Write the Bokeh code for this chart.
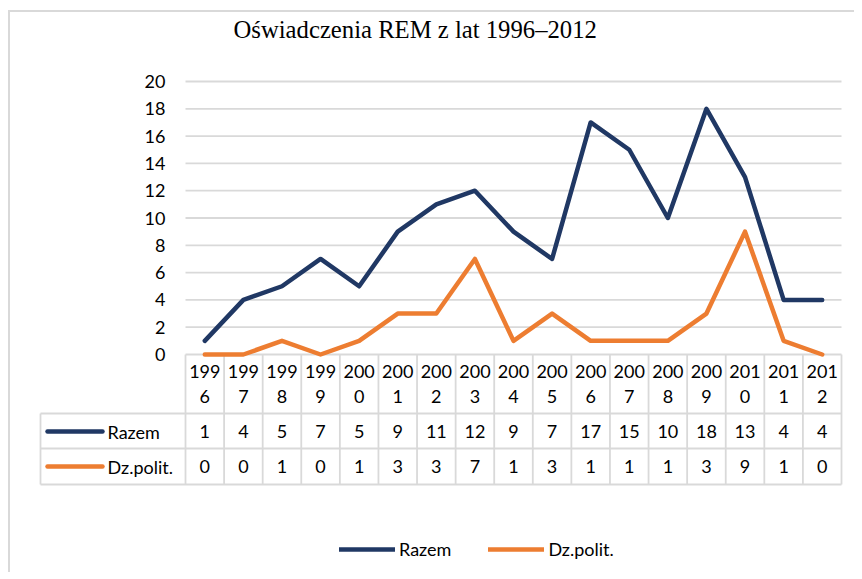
import numpy as np
from bokeh.plotting import figure
from bokeh.models import Range1d, FixedTicker, Legend, LegendItem, LinearAxis
from bokeh.embed import file_html
from bokeh.resources import INLINE

# ---- data ----
years = ["1996", "1997", "1998", "1999", "2000", "2001", "2002", "2003", "2004",
         "2005", "2006", "2007", "2008", "2009", "2010", "2011", "2012"]
razem = [1, 4, 5, 7, 5, 9, 11, 12, 9, 7, 17, 15, 10, 18, 13, 4, 4]
dz_polit = [0, 0, 1, 0, 1, 3, 3, 7, 1, 3, 1, 1, 1, 3, 9, 1, 0]
series_names = ["Razem", "Dz.polit."]
series_values = [razem, dz_polit]
series_colors = ["#203864", "#ED7D31"]
y_ticks = [0, 2, 4, 6, 8, 10, 12, 14, 16, 18, 20]
title_text = "Oświadczenia REM z lat 1996–2012"

# ---- layout constants (page pixels) ----
OX, OY = 10, 12                    # where the canvas starts (after css margin + border)
FIG_W, FIG_H = 846, 562
PLOT_L, PLOT_R = 185, 841          # page x of first / last column edge
COLW = (PLOT_R - PLOT_L) / len(years)
Y0_PX, Y20_PX = 354, 81
PXU = (Y0_PX - Y20_PX) / 20.0
FRAME_L, FRAME_R, FRAME_T, FRAME_B = 38, 843, 42, OY + FIG_H
GRID = "#d9d9d9"
FONT = "Lato"
FS = "18px"


def col(px):
    return -0.5 + (px - PLOT_L) / COLW


def rowy(px):
    return (Y0_PX - px) / PXU


idx = np.arange(len(years))
edges = np.arange(len(years) + 1) - 0.5

p = figure(width=FIG_W, height=FIG_H,
           x_range=Range1d(col(FRAME_L), col(FRAME_R)),
           y_range=Range1d(rowy(FRAME_B), rowy(FRAME_T)),
           x_axis_type=None, y_axis_type=None,
           output_backend="svg", toolbar_location=None,
           min_border_left=FRAME_L - OX, min_border_right=FIG_W - (FRAME_R - OX),
           min_border_top=FRAME_T - OY, min_border_bottom=0)
p.styles = {"border-top": "2px solid #d9d9d9", "border-left": "2px solid #d9d9d9",
            "margin": "10px 0px 0px 8px"}
p.outline_line_color = None
p.background_fill_color = "white"
p.border_fill_color = "white"

p.title.text = title_text
p.title.text_font = "Liberation Serif"
p.title.text_font_size = "24.7px"
p.title.text_font_style = "normal"
p.title.text_color = "#000000"
p.title.align = "left"
p.title.offset = 233 - FRAME_L
p.title.standoff = 0

yaxis = LinearAxis(ticker=FixedTicker(ticks=y_ticks), fixed_location=col(165))
yaxis.axis_line_color = None
yaxis.major_tick_line_color = None
yaxis.minor_tick_line_color = None
yaxis.major_tick_out = 0
yaxis.major_tick_in = 0
yaxis.major_label_standoff = 0
yaxis.major_label_text_font = FONT
yaxis.major_label_text_font_size = FS
yaxis.major_label_text_color = "#000000"
p.add_layout(yaxis, "left")

# horizontal gridlines over the plotting columns only
p.segment(x0=edges[0], y0=y_ticks, x1=edges[-1], y1=y_ticks,
          line_color=GRID, line_width=1.8)

# ---- data table ----
ROW_EDGES = [rowy(413), rowy(448), rowy(484)]
HEAD_LINES = [rowy(371), rowy(396)]
ROW_CENTERS = [rowy(431), rowy(466)]
LABEL_L = col(40)

p.segment(x0=LABEL_L, y0=ROW_EDGES, x1=edges[-1], y1=ROW_EDGES,
          line_color=GRID, line_width=1.8)
p.segment(x0=edges, y0=0, x1=edges, y1=ROW_EDGES[-1], line_color=GRID, line_width=1.8)
p.segment(x0=[LABEL_L], y0=[ROW_EDGES[0]], x1=[LABEL_L], y1=[ROW_EDGES[-1]],
          line_color=GRID, line_width=1.8)

txt = dict(text_align="center", text_baseline="middle", text_font_size=FS,
           text_color="#000000", text_font={"value": FONT})
p.text(x=idx, y=HEAD_LINES[0], text=[y[:3] for y in years], **txt)
p.text(x=idx, y=HEAD_LINES[1], text=[y[3:] for y in years], **txt)
for vals, yc in zip(series_values, ROW_CENTERS):
    p.text(x=idx, y=yc, text=[str(v) for v in vals], **txt)

p.text(x=col(107), y=ROW_CENTERS, text=series_names, text_align="left",
       text_baseline="middle", text_font={"value": FONT}, text_font_size=FS,
       text_color="#000000")
keys = p.segment(x0=col(47), y0=ROW_CENTERS, x1=col(102), y1=ROW_CENTERS,
                 line_color=series_colors, line_width=4.5, line_cap="round")

# ---- series lines ----
for vals, color in zip(series_values, series_colors):
    p.line(idx, vals, line_color=color, line_width=4.5,
           line_join="round", line_cap="round")

legend = Legend(items=[LegendItem(label=n, renderers=[keys], index=i)
                       for i, n in enumerate(series_names)],
                orientation="horizontal", location=(339 - FRAME_L, FRAME_B - 550 - 10),
                glyph_width=56, glyph_height=20, label_standoff=4, spacing=37,
                padding=0, margin=0, border_line_color=None,
                background_fill_alpha=0, label_text_font=FONT,
                label_text_font_size=FS, label_text_color="#000000")
p.add_layout(legend)

open("out.html", "w").write(file_html(p, INLINE))
